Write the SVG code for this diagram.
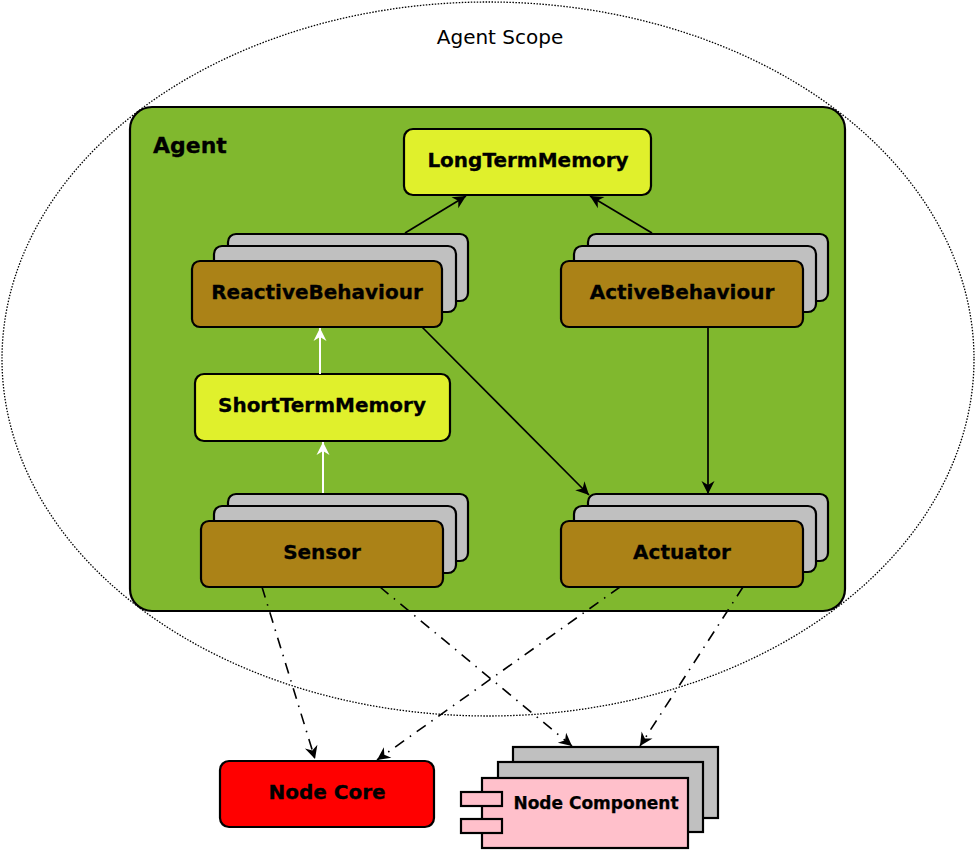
<svg xmlns="http://www.w3.org/2000/svg" width="978" height="850" viewBox="0 0 978 850">
<defs>
<marker id="ab" markerUnits="userSpaceOnUse" markerWidth="13" markerHeight="13" refX="13" refY="6.5" orient="auto" overflow="visible">
<path d="M0,0 L13,6.5 L0,13 L4,6.5 z" fill="#000"/>
</marker>
<marker id="aw" markerUnits="userSpaceOnUse" markerWidth="13" markerHeight="13" refX="13" refY="6.5" orient="auto" overflow="visible">
<path d="M0,0 L13,6.5 L0,13 L4,6.5 z" fill="#fff"/>
</marker>
</defs>
<style>
.lbl{font-family:"DejaVu Sans",sans-serif;font-weight:bold;font-size:20px;text-anchor:middle;fill:#000;stroke:#000;stroke-width:0.3}
.box{stroke:#000;stroke-width:2.2}
.br{fill:#ab8217}
.gr{fill:#c0c0c0}
.ye{fill:#e0f02c}
.pk{fill:#ffc0cb}
.solid{stroke:#000;stroke-width:1.7;fill:none;marker-end:url(#ab)}
.white{stroke:#fff;stroke-width:2;fill:none;marker-end:url(#aw)}
.dd{stroke:#000;stroke-width:1.6;fill:none;stroke-dasharray:11 7 1.5 7;marker-end:url(#ab)}
</style>
<rect width="978" height="850" fill="#fff"/>
<g id="scope">
<ellipse cx="488" cy="359" rx="486" ry="357" fill="none" stroke="#000" stroke-width="1.3" stroke-dasharray="1.5 1.5"/>
<text x="500" y="44" style="font-family:'DejaVu Sans',sans-serif;font-size:20px;text-anchor:middle">Agent Scope</text>
</g>
<g id="agent">
<rect x="130" y="107" width="715" height="504" rx="22" fill="#80b82e" class="box"/>
<text x="153" y="153" style="font-family:'DejaVu Sans',sans-serif;font-weight:bold;font-size:22px;stroke:#000;stroke-width:0.3">Agent</text>
</g>
<g id="ltm">
<rect x="404" y="129" width="247" height="66" rx="9" class="box ye"/>
<text x="528" y="167" class="lbl">LongTermMemory</text>
</g>
<g id="reactive">
<rect x="228" y="234" width="240" height="67" rx="8" class="box gr"/>
<rect x="214" y="246" width="242" height="66" rx="8" class="box gr"/>
<rect x="192" y="261" width="250" height="66" rx="8" class="box br"/>
<text x="317" y="299" class="lbl">ReactiveBehaviour</text>
</g>
<g id="active">
<rect x="588" y="234" width="240" height="67" rx="8" class="box gr"/>
<rect x="574" y="246" width="242" height="66" rx="8" class="box gr"/>
<rect x="561" y="261" width="242" height="66" rx="8" class="box br"/>
<text x="682" y="299" class="lbl">ActiveBehaviour</text>
</g>
<g id="stm">
<rect x="195" y="374" width="255" height="67" rx="9" class="box ye"/>
<text x="322" y="412" class="lbl">ShortTermMemory</text>
</g>
<g id="sensor">
<rect x="228" y="494" width="240" height="67" rx="8" class="box gr"/>
<rect x="214" y="506" width="242" height="67" rx="8" class="box gr"/>
<rect x="201" y="521" width="242" height="66" rx="8" class="box br"/>
<text x="322" y="559" class="lbl">Sensor</text>
</g>
<g id="actuator">
<rect x="588" y="494" width="240" height="67" rx="8" class="box gr"/>
<rect x="574" y="506" width="242" height="66" rx="8" class="box gr"/>
<rect x="561" y="521" width="242" height="66" rx="8" class="box br"/>
<text x="682" y="559" class="lbl">Actuator</text>
</g>
<g id="nodecore">
<rect x="220" y="761" width="214" height="66" rx="9" class="box" fill="#ff0000"/>
<text x="327" y="799" class="lbl">Node Core</text>
</g>
<g id="nodecomponent">
<rect x="513" y="747" width="205" height="71" class="box gr"/>
<rect x="498" y="762" width="205" height="70" class="box gr"/>
<rect x="482" y="778" width="206" height="70" class="box pk"/>
<rect x="461" y="792" width="41" height="14" class="box pk"/>
<rect x="461" y="819" width="41" height="14" class="box pk"/>
<text x="596" y="809" style="font-family:'DejaVu Sans',sans-serif;font-weight:bold;font-size:17px;text-anchor:middle;stroke:#000;stroke-width:0.25">Node Component</text>
</g>
<g id="connectors">
<line x1="405" y1="233" x2="466" y2="196" class="solid"/>
<line x1="652" y1="233" x2="590" y2="196" class="solid"/>
<line x1="708" y1="327" x2="708" y2="494" class="solid"/>
<line x1="422" y1="327" x2="589" y2="495" class="solid"/>
<line x1="323" y1="493" x2="323" y2="442" class="white"/>
<line x1="320" y1="374" x2="320" y2="328" class="white"/>
<line x1="262" y1="587" x2="315" y2="759" class="dd"/>
<line x1="380" y1="587" x2="572" y2="746" class="dd"/>
<line x1="620" y1="587" x2="377" y2="760" class="dd"/>
<line x1="743" y1="587" x2="640" y2="746" class="dd"/>
</g>
</svg>
